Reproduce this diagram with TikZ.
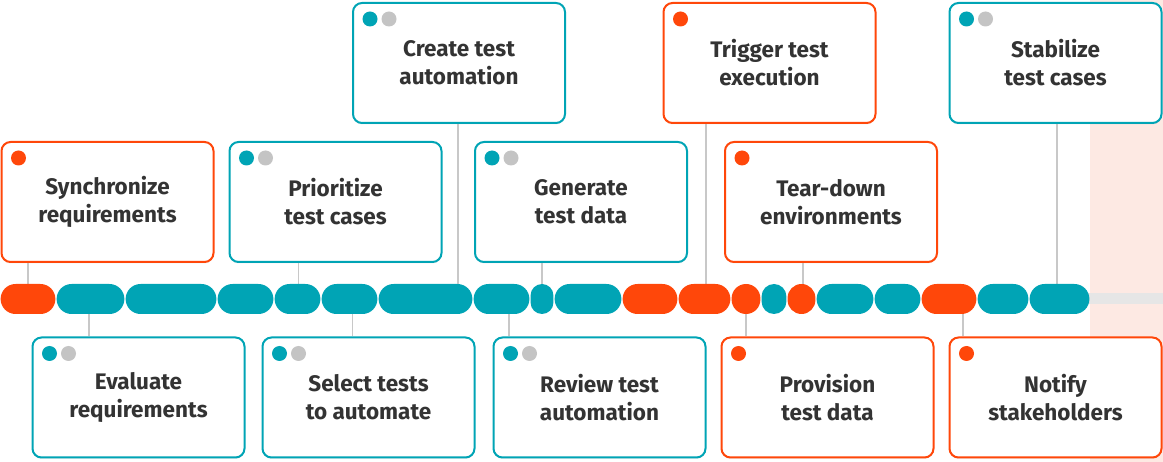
\documentclass[tikz,border=0pt]{standalone}
\usepackage{fontspec}
\setmainfont{Fira Sans}
\usepackage{tikz}
\usetikzlibrary{shadows}
\usepackage{xcolor}
\definecolor{tealc}{HTML}{00A4B5}
\definecolor{orangec}{HTML}{FF470A}
\definecolor{dotgray}{HTML}{C4C4C4}
\definecolor{linegray}{HTML}{C8C8C8}
\definecolor{trackgray}{HTML}{E6E6E6}
\definecolor{pinkbg}{HTML}{FDE9E3}
\definecolor{txt}{HTML}{333333}

\begin{document}
\begin{tikzpicture}[x=1pt, y=-1pt,
        task/.style={line width=2pt, rounded corners=9pt, fill=white,
                minimum width=212pt, minimum height=120pt, align=center, text=txt,
                font=\bfseries\fontsize{22.5}{28}\selectfont,
                drop shadow={opacity=0.12, shadow xshift=0pt, shadow yshift=-1.5pt}},
        redtask/.style={task, draw=orangec},
        bluetask/.style={task, draw=tealc},
        link/.style={draw=linegray, line width=1.5pt}]
                \useasboundingbox (0,0) rectangle (1163,462);
                \fill[pinkbg] (1090,0) rectangle (1163,462);
                \fill[trackgray] (1080,293) rectangle (1163,304);
                % boxes above the bar
                \node[redtask] (sync) at (107.5,202) {Synchronize\\requirements};
                \node[bluetask] (prio) at (335.5,202) {Prioritize\\test cases};
                \node[bluetask] (gen) at (581,202) {Generate\\test data};
                \node[redtask] (tear) at (831,202) {Tear-down\\environments};
                \node[bluetask] (crea) at (459,63) {Create test\\automation};
                \node[redtask] (trig) at (769.5,63) {Trigger test\\execution};
                \node[bluetask] (stab) at (1055.5,63) {Stabilize\\test cases};
                % boxes below the bar
                \node[bluetask] (eval) at (138.5,397.5) {Evaluate\\requirements};
                \node[bluetask] (sel) at (368.5,397.5) {Select tests\\to automate};
                \node[bluetask] (rev) at (599.5,397.5) {Review test\\automation};
                \node[redtask] (prov) at (827.5,397.5) {Provision\\test data};
                \node[redtask] (noti) at (1055.5,397.5) {Notify\\stakeholders};
                % dots
                \foreach \n in {sync,tear,trig,prov,noti} {
                        \fill[orangec] ([shift={(18,17)}]\n.north west) circle (7.5pt);
                    }
                \foreach \n in {prio,gen,crea,stab,eval,sel,rev} {
                        \fill[tealc] ([shift={(18,17)}]\n.north west) circle (7.5pt);
                        \fill[dotgray] ([shift={(37,17)}]\n.north west) circle (7.5pt);
                    }
                % links to the bar
                \foreach \n/\x in {sync/28,prio/298.5,crea/458,gen/542,trig/706,tear/803,stab/1057} {
                        \coordinate (t-\n) at (\x,290);
                        \draw[link] (t-\n) -- (t-\n |- \n.south);
                    }
                \foreach \n/\x in {eval/89,sel/352.5,rev/509,prov/746,noti/963} {
                        \coordinate (b-\n) at (\x,308);
                        \draw[link] (b-\n) -- (b-\n |- \n.north);
                    }
                % the bar
                \foreach \a/\b/\c in {0/56/orangec,56/125/tealc,125/217/tealc,217/274/tealc,
                        274/321/tealc,321/378/tealc,378/473/tealc,473/530/tealc,530/554/tealc,
                        554/622/tealc,622/678/orangec,678/731/orangec,731/761/orangec,
                        761/787/tealc,787/816/orangec,816/874/tealc,874/921/tealc,
                        921/977/orangec,977/1029/tealc,1029/1090/tealc} {
                        \pgfmathsetmacro\r{min(15,(\b-\a)/2-0.6)}
                        \fill[\c, rounded corners=\r pt] (\a+0.6,284) rectangle (\b-0.6,314);
                    }
            \end{tikzpicture}
\end{document}
